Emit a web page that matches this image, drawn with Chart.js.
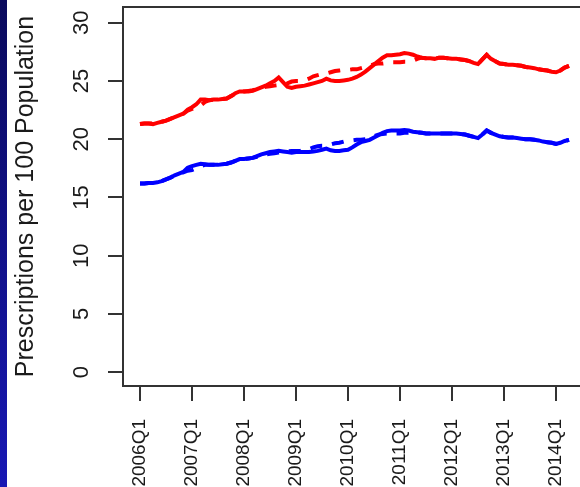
<!DOCTYPE html>
<html><head><meta charset="utf-8">
<script src="https://cdn.jsdelivr.net/npm/chart.js@4.4.1/dist/chart.umd.min.js"></script>
<style>
html,body{margin:0;padding:0;background:#fff;overflow:hidden;width:580px;height:487px;}
#wrap{position:absolute;left:0;top:0;width:620px;height:487px;}
#strip{position:absolute;left:0;top:0;width:7px;height:487px;background:linear-gradient(#0a0a5c,#1818b4);z-index:2;}
</style></head><body>
<div id="strip"></div>
<div id="wrap"><canvas id="c" width="620" height="487"></canvas></div>
<script>
// Tick labels (quarters) and their month index (month 0 = 2006 Jan)
const tickLabels = ['2006Q1','2007Q1','2008Q1','2009Q1','2010Q1','2011Q1','2012Q1','2013Q1','2014Q1'];
const tickMonths = [0,12,24,36,48,60,72,84,96];
const yTicks = [0,5,10,15,20,25,30];
const yTitle = 'Prescriptions per 100 Population';

// Monthly series, 2006 Jan .. 2014 Apr
const redObserved = [
 21.3,21.35,21.35,21.3,21.4,21.5,21.6,21.75,21.9,22.05,
 22.2,22.55,22.75,23.0,23.4,23.4,23.35,23.4,23.4,23.45,
 23.5,23.7,23.95,24.1,24.1,24.1,24.15,24.3,24.45,24.6,
 24.8,25.0,25.3,24.9,24.5,24.4,24.5,24.55,24.6,24.7,
 24.8,24.9,25.0,25.2,25.05,25.0,25.0,25.05,25.1,25.2,
 25.35,25.55,25.8,26.1,26.4,26.7,27.0,27.2,27.2,27.25,
 27.3,27.4,27.35,27.25,27.1,27.0,26.95,26.95,26.9,27.0,
 27.0,26.95,26.9,26.9,26.85,26.8,26.7,26.55,26.45,26.85,
 27.25,26.9,26.7,26.5,26.45,26.4,26.4,26.35,26.3,26.2,
 26.15,26.1,26.0,25.95,25.9,25.8,25.75,25.9,26.15,26.3
];
const redFitted = [
 21.3,21.35,21.35,21.35,21.4,21.5,21.6,21.75,21.9,22.05,
 22.2,22.45,22.6,22.75,22.9,23.2,23.35,23.4,23.4,23.45,
 23.5,23.7,23.9,24.05,24.1,24.15,24.2,24.3,24.4,24.5,
 24.55,24.6,24.65,24.7,24.8,24.95,25.0,25.0,25.05,25.2,
 25.4,25.5,25.6,25.65,25.75,25.85,25.9,25.95,25.95,26.0,
 26.0,26.1,26.2,26.3,26.45,26.5,26.5,26.55,26.6,26.6,
 26.6,26.65,26.65,26.75,26.9,27.0,26.95,26.95,26.9,27.0,
 27.0,26.95,26.9,26.9,26.85,26.8,26.7,26.55,26.45,26.85,
 27.25,26.9,26.7,26.5,26.45,26.4,26.4,26.35,26.3,26.2,
 26.15,26.1,26.0,25.95,25.9,25.8,25.75,25.9,26.15,26.3
];
const blueObserved = [
 16.2,16.2,16.25,16.25,16.3,16.4,16.55,16.7,16.9,17.05,
 17.2,17.55,17.7,17.8,17.9,17.85,17.8,17.8,17.8,17.85,
 17.9,18.0,18.15,18.3,18.3,18.35,18.4,18.55,18.7,18.8,
 18.9,18.95,19.0,18.95,18.9,18.85,18.9,18.9,18.9,18.9,
 18.95,19.0,19.1,19.2,19.05,19.0,19.0,19.05,19.1,19.3,
 19.55,19.75,19.85,19.95,20.15,20.35,20.55,20.7,20.75,20.75,
 20.75,20.8,20.75,20.65,20.6,20.55,20.5,20.5,20.5,20.5,
 20.5,20.5,20.5,20.5,20.45,20.4,20.3,20.2,20.1,20.4,
 20.75,20.55,20.4,20.25,20.2,20.15,20.15,20.1,20.05,20.0,
 20.0,19.95,19.9,19.8,19.75,19.7,19.6,19.7,19.85,19.95
];
const blueFitted = [
 16.2,16.2,16.25,16.25,16.3,16.4,16.55,16.7,16.9,17.05,
 17.15,17.3,17.35,17.5,17.7,17.8,17.8,17.8,17.8,17.85,
 17.9,18.0,18.15,18.3,18.3,18.35,18.4,18.5,18.6,18.7,
 18.75,18.8,18.85,18.9,18.95,19.0,19.0,19.0,19.05,19.15,
 19.3,19.4,19.45,19.45,19.55,19.65,19.7,19.8,19.85,19.9,
 19.95,19.95,20.0,20.1,20.25,20.4,20.45,20.5,20.5,20.5,
 20.5,20.55,20.55,20.6,20.6,20.55,20.5,20.5,20.5,20.5,
 20.5,20.5,20.5,20.5,20.45,20.4,20.3,20.2,20.1,20.4,
 20.75,20.55,20.4,20.25,20.2,20.15,20.15,20.1,20.05,20.0,
 20.0,19.95,19.9,19.8,19.75,19.7,19.6,19.7,19.85,19.95
];

const pts = arr => arr.map((v, i) => ({x: i, y: v}));
const textColor = '#1a1a1a';
const axisColor = '#333333';
Chart.defaults.font.family = "'Liberation Sans', Arial, sans-serif";

const boxPlugin = {
  id: 'box',
  afterDraw(chart) {
    const {ctx, chartArea: a} = chart;
    ctx.save();
    ctx.strokeStyle = axisColor;
    ctx.lineWidth = 2;
    ctx.strokeRect(a.left, a.top, a.right - a.left, a.bottom - a.top);
    ctx.restore();
  }
};

const lineDs = (data, color, dashed) => ({
  data: pts(data), borderColor: color, borderWidth: 4,
  borderDash: dashed ? [12, 10] : [], pointRadius: 0, tension: 0, fill: false
});

new Chart(document.getElementById('c'), {
  type: 'line',
  data: {
    datasets: [
      lineDs(redFitted, '#ff0000', true),
      lineDs(redObserved, '#ff0000', false),
      lineDs(blueFitted, '#0000ff', true),
      lineDs(blueObserved, '#0000ff', false)
    ]
  },
  options: {
    responsive: false, animation: false, devicePixelRatio: 1,
    layout: {padding: {left: 0, top: 7, right: 34, bottom: 0}},
    plugins: {legend: {display: false}, tooltip: {enabled: false}},
    scales: {
      x: {
        type: 'linear', min: -3.923, max: 102.92,
        afterBuildTicks: s => { s.ticks = tickMonths.map(v => ({value: v})); },
        afterFit: s => { s.height = 101; s.paddingLeft = 0; s.paddingRight = 0; },
        ticks: {
          minRotation: 90, maxRotation: 90, autoSkip: false, padding: 18,
          font: {size: 19}, color: textColor,
          callback: v => tickLabels[tickMonths.indexOf(v)]
        },
        grid: {drawOnChartArea: false, drawTicks: true, tickLength: 15, color: axisColor, lineWidth: 2},
        border: {display: true, color: axisColor, width: 2}
      },
      y: {
        type: 'linear', min: -1.18, max: 31.35,
        afterBuildTicks: s => { s.ticks = yTicks.map(v => ({value: v})); },
        afterFit: s => { s.width = 123; s.paddingTop = 0; s.paddingBottom = 0; },
        ticks: {
          minRotation: 90, maxRotation: 90, crossAlign: 'center', padding: 14,
          font: {size: 22}, color: textColor, callback: v => String(v)
        },
        grid: {drawOnChartArea: false, drawTicks: true, tickLength: 15, color: axisColor, lineWidth: 2},
        border: {display: true, color: axisColor, width: 2},
        title: {display: true, text: yTitle, font: {size: 25}, color: textColor, padding: {top: 11, bottom: 0}}
      }
    }
  },
  plugins: [boxPlugin]
});
</script>
</body></html>
